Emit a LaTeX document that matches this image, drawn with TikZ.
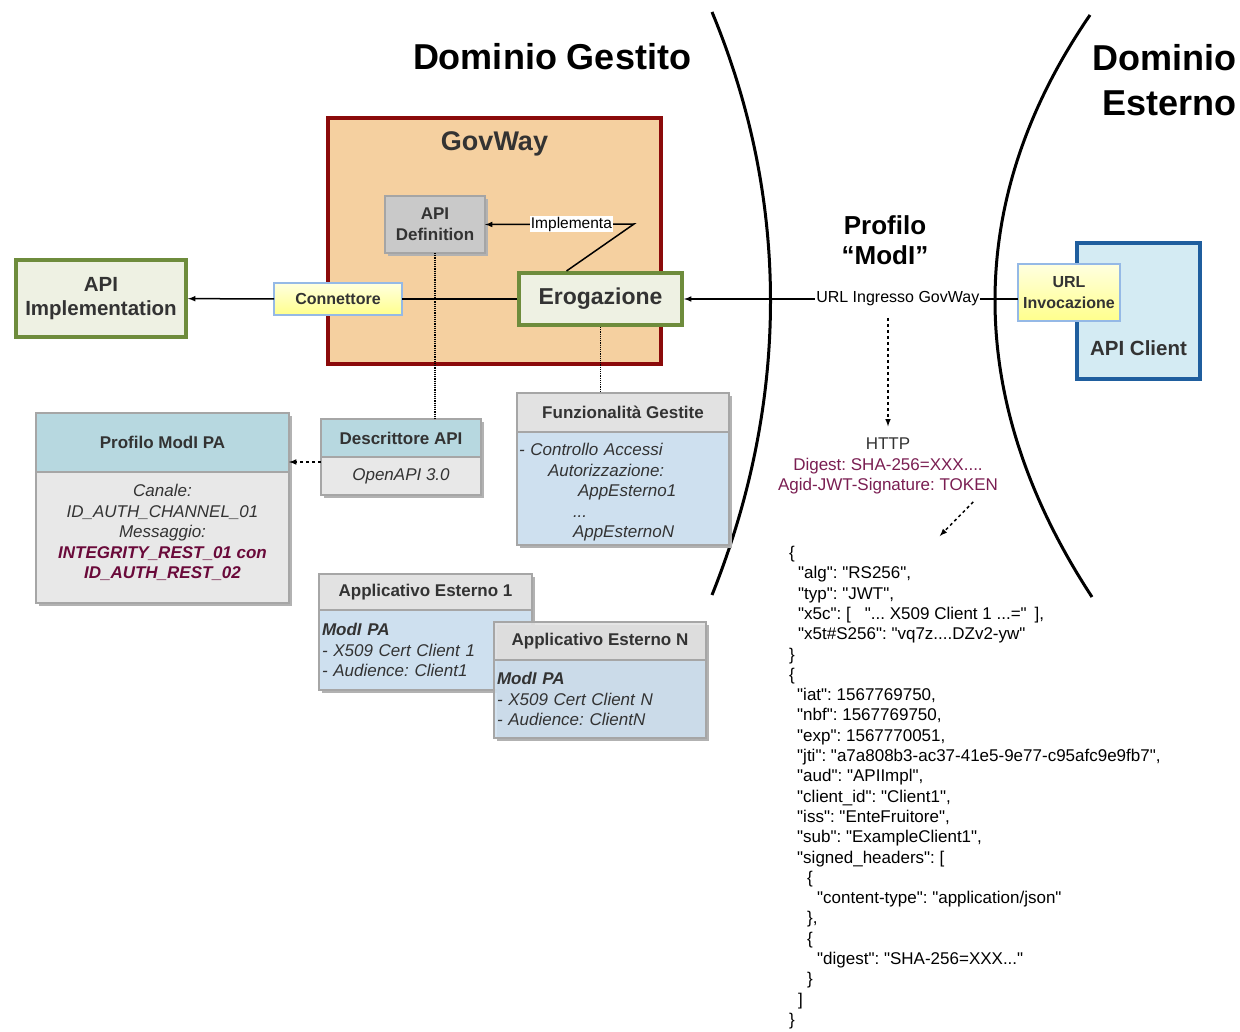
\documentclass[tikz,border=0pt]{standalone}
\usepackage{fontspec}
\setmainfont{Liberation Sans}
\newfontfamily\jsonfont{Liberation Sans}
\usepackage{xcolor}
\usetikzlibrary{shapes,arrows,positioning,shadows}

\definecolor{gwfill}{HTML}{F5D0A0}
\definecolor{gwdraw}{HTML}{8B0A0A}
\definecolor{grfill}{HTML}{EEF1E3}
\definecolor{grdraw}{HTML}{6E8C3C}
\definecolor{defill}{HTML}{C9C9C9}
\definecolor{dedraw}{HTML}{A5A5A5}
\definecolor{ylight}{HTML}{FFFFE0}
\definecolor{ydark}{HTML}{FFFF8C}
\definecolor{ybord}{HTML}{95B9E6}
\definecolor{hdfill}{HTML}{B7D8E0}
\definecolor{gyfill}{HTML}{E8E8E8}
\definecolor{fhfill}{HTML}{E2E2E2}
\definecolor{lbfill}{HTML}{CEE0EF}
\definecolor{clfill}{HTML}{D4EBF3}
\definecolor{cldraw}{HTML}{1F5E9E}
\definecolor{txtgray}{HTML}{333333}
\definecolor{purp}{HTML}{7A1E52}
\definecolor{purpdark}{HTML}{6A0A3A}

\newcommand{\fsz}[2]{\fontsize{#1}{#2}\selectfont}

\begin{document}
\frenchspacing
\begin{tikzpicture}[
    x=1pt, y=-1pt,
    node distance=0pt,
    box/.style={rectangle, draw, outer sep=0pt, align=center, text=txtgray, font=\bfseries\fsz{17}{21}},
    gbox/.style={box, fill=grfill, draw=grdraw, line width=4pt, outer sep=2pt},
    ybox/.style={box, top color=ylight, bottom color=ydark, draw=ybord, line width=1.5pt, font=\bfseries\fsz{16}{21}},
    shdw/.style={drop shadow={shadow xshift=3pt, shadow yshift=-3pt, fill=black!30, opacity=1}},
    head/.style={box, shdw, draw=black!35, line width=1.5pt, fill=#1},
    body/.style={box, shdw, draw=black!35, line width=1.5pt, fill=#1, font=\itshape\fsz{17}{20.5}},
    arrow/.style={-latex, line width=1.5pt},
    dots/.style={densely dotted, line width=1.2pt}
]
\useasboundingbox (0,0) rectangle (1240,1032);

\draw[line width=3pt] (712,12) .. controls (790,200) and (790,400) .. (712,595);
\draw[line width=3pt] (1090,15) .. controls (963,200) and (963,400) .. (1092,597);

\node[font=\bfseries\fsz{36}{45}] (dg) at (552,57) {Dominio Gestito};
\node[font=\bfseries\fsz{36}{45}, align=right, anchor=east] (de) at (1240,80.5) {Dominio\\Esterno};
\node[font=\bfseries\fsz{26}{30}, align=center] (modi) at (885,240) {Profilo\\“ModI”};

\node[box, fill=gwfill, draw=gwdraw, line width=4pt, minimum width=333, minimum height=246] (gw) at (494.5,241) {};
\node[below=10pt of gw.north, font=\bfseries\fsz{27}{30}, text=txtgray] (gwt) {GovWay};
\node[box, shdw, fill=defill, draw=dedraw, line width=2pt, minimum width=100, minimum height=57] (def) at (435,224.5) {API\\Definition};
\node[gbox, font=\bfseries\fsz{23}{28}, minimum width=163, minimum height=52] (ero) at (600.5,299) {Erogazione};
\node[ybox, minimum width=128, minimum height=32] (conn) at (338,299) {Connettore};
\node[gbox, font=\bfseries\fsz{20.5}{24}, minimum width=170, minimum height=77] (impl) at (101,298.5) {API\\Implementation};
\node[box, fill=clfill, draw=cldraw, line width=4pt, minimum width=123, minimum height=136] (client) at (1138.5,311) {};
\node[above=20pt of client.south, font=\bfseries\fsz{20.5}{24}, text=txtgray] (clientt) {API Client};
\node[ybox, minimum width=102, minimum height=57] (inv) at (1069,292.5) {URL\\Invocazione};

\node[head=hdfill, minimum width=253, minimum height=59] (profh) at (162.5,442.5) {Profilo ModI PA};
\node[body=gyfill, minimum width=253, minimum height=131, below=of profh] (profb) {Canale:\\ID\_AUTH\_CHANNEL\_01\\Messaggio:\\\textcolor{purpdark}{\bfseries INTEGRITY\_REST\_01 con}\\\textcolor{purpdark}{\bfseries ID\_AUTH\_REST\_02}\rule[-12pt]{0pt}{0pt}};

\node[head=hdfill, minimum width=160, minimum height=38] (desh) at (401,438) {Descrittore API};
\node[body=gyfill, minimum width=160, minimum height=38, below=of desh] (desb) {OpenAPI 3.0};

\node[head=fhfill, minimum width=212, minimum height=39] (funh) at (623,412.5) {Funzionalità Gestite};
\node[body=lbfill, minimum height=113, below=of funh, align=left, text width=208, inner xsep=2pt] (funb) {\rule{0pt}{20pt}- Controllo Accessi\\\hspace*{29pt}Autorizzazione:\\\hspace*{59pt}AppEsterno1\\\hspace*{54pt}...\\\hspace*{54pt}AppEsternoN};

\node[head=fhfill, minimum width=213, minimum height=36] (app1h) at (425.5,592) {Applicativo Esterno 1};
\node[body=lbfill, minimum height=80, below=of app1h, align=left, text width=207, inner xsep=3pt] (app1b) {{\bfseries ModI PA}\\- X509 Cert Client 1\\- Audience: Client1};
\node[head=fhfill, fill opacity=.9, text opacity=1, minimum width=212, minimum height=38] (appnh) at (600,641) {Applicativo Esterno N};
\node[body=lbfill, fill opacity=.9, text opacity=1, minimum height=78, below=of appnh, align=left, text width=206, inner xsep=3pt] (appnb) {{\bfseries ModI PA}\\- X509 Cert Client N\\- Audience: ClientN};

\node[align=center, font=\fsz{17}{20.5}, text=txtgray] (http) at (888,466) {HTTP\\\color{purp}Digest: SHA-256=XXX....\\\color{purp}Agid-JWT-Signature: TOKEN};
\node[anchor=north west, align=left, inner sep=0pt, font=\jsonfont\fsz{17}{20.3}] (json) at (789,546) {%
\{\\
\hspace*{9pt}"alg": "RS256",\\
\hspace*{9pt}"typ": "JWT",\\
\hspace*{9pt}"x5c": [\hspace*{14pt}"... X509 Client 1 ...="\hspace*{8pt}],\\
\hspace*{9pt}"x5t\#S256": "vq7z....DZv2-yw"\\
\}\\
\{\\
\hspace*{8pt}"iat": 1567769750,\\
\hspace*{8pt}"nbf": 1567769750,\\
\hspace*{8pt}"exp": 1567770051,\\
\hspace*{8pt}"jti": "a7a808b3-ac37-41e5-9e77-c95afc9e9fb7",\\
\hspace*{8pt}"aud": "APIImpl",\\
\hspace*{8pt}"client\_id": "Client1",\\
\hspace*{8pt}"iss": "EnteFruitore",\\
\hspace*{8pt}"sub": "ExampleClient1",\\
\hspace*{8pt}"signed\_headers": [\\
\hspace*{18pt}\{\\
\hspace*{28pt}"content-type": "application/json"\\
\hspace*{18pt}\},\\
\hspace*{18pt}\{\\
\hspace*{28pt}"digest": "SHA-256=XXX..."\\
\hspace*{18pt}\}\\
\hspace*{9pt}]\\
\}};

\coordinate (bend) at (634,224);
\draw[arrow] ([xshift=-34pt]ero.north) -- (bend) -- node[pos=.42, fill=white, inner sep=1pt, font=\fsz{15.5}{18}] (implbl) {Implementa} (def.east);
\draw[line width=1.5pt] (ero) -- (conn);
\draw[arrow] (conn) -- (impl);
\draw[arrow] (inv.west |- ero.east) -- node[pos=.36, fill=white, inner sep=1pt, font=\fsz{16}{18}] (url) {URL Ingresso GovWay} (ero.east);
\draw[dots] (def.south) -- (def.south |- desh.north);
\draw[dots] (ero.south) -- (ero.south |- funh.north);
\draw[arrow, dashed] ([yshift=-5pt]desb.north west) -- ([yshift=-5pt]desb.north west -| profh.east);
\draw[arrow, dashed, shorten <=10pt, shorten >=8pt] (http.north |- url.south) -- (http.north);
\draw[arrow, dashed, shorten <=6pt, shorten >=14pt] ([xshift=-24pt]http.south east) -- ([xshift=-45pt]json.north);
\end{tikzpicture}
\end{document}
